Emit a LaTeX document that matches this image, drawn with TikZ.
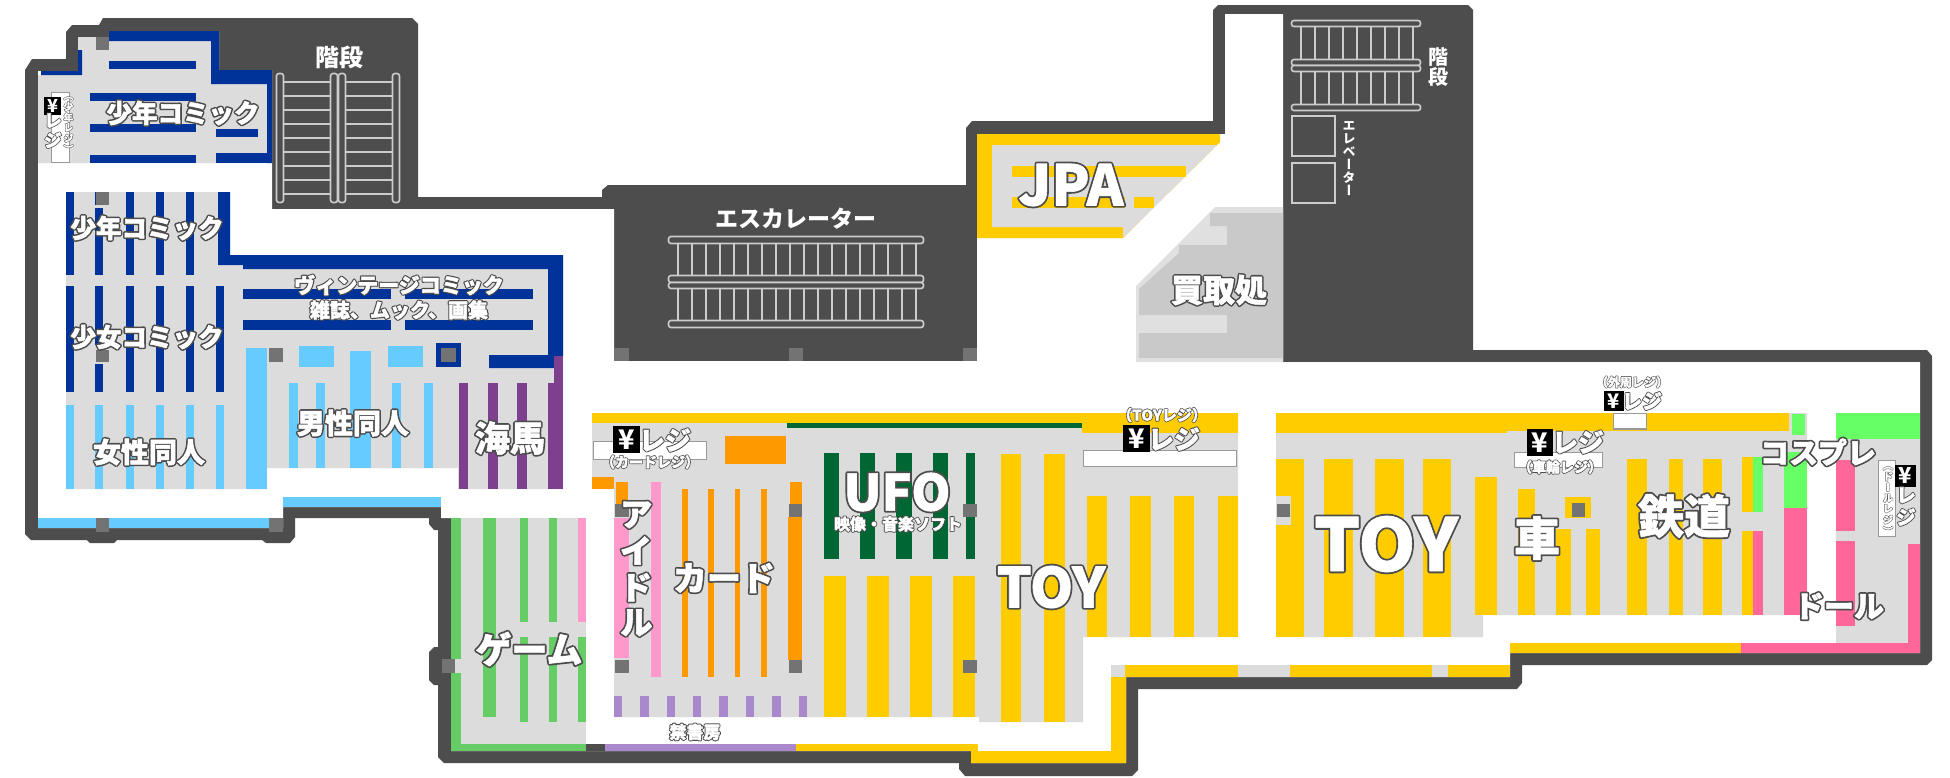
\documentclass[tikz,border=0pt]{standalone}
\usepackage{fontspec}
\usepackage{graphicx}
\newfontfamily\jp{Noto Sans CJK JP Black}
\newfontfamily\jpv{Noto Sans CJK JP Black}[RawFeature=+vert]
\definecolor{wall}{HTML}{4D4D4D}
\definecolor{flr}{HTML}{DCDCDC}
\definecolor{pil}{HTML}{737373}
\definecolor{navy}{HTML}{003399}
\definecolor{sky}{HTML}{66CCFF}
\definecolor{purp}{HTML}{7F3F8F}
\definecolor{grn}{HTML}{66CC66}
\definecolor{pnk}{HTML}{FF99CC}
\definecolor{org}{HTML}{FF9900}
\definecolor{ylw}{HTML}{FFCC00}
\definecolor{dgrn}{HTML}{006633}
\definecolor{hpnk}{HTML}{FF6699}
\definecolor{lgrn}{HTML}{66FF66}
\definecolor{lil}{HTML}{AA88CC}
\definecolor{buy}{HTML}{C9C9C9}
\definecolor{buyl}{HTML}{E0E0E0}
\definecolor{rail}{HTML}{CCCCCC}
\newcommand\bx[5]{\fill[#1] (#2,#3) rectangle (#4,#5);}
% outlined text: one box painted twice, dark stroke below, white above
\newcommand\paintbox[1]{\leavevmode\rlap{\special{x:gsave}\special{pdf:code 2 Tr \fpeval{#1*3} w 1 j 0.3 g 0.3 G}\copy0\special{x:grestore}}\special{x:gsave}\special{pdf:code 2 Tr \fpeval{#1*0.4} w 1 j 1 g 1 G}\copy0\special{x:grestore}}
\newcommand\lab[6]{\node[labn,font=\jp\fontsize{#4}{#4}\selectfont] (#1) at (#2,#3) {\setbox0=\hbox{#6}\paintbox{#5}};}
\newcommand\vlab[6]{\node[labn,font=\jpv\fontsize{#4}{#4}\selectfont] (#1) at (#2,#3) {\setbox0=\hbox{\begin{tabular}{@{}c@{}}#6\end{tabular}}\paintbox{#5}};}
\newcommand\plainlab[5]{\node[labn,font=\jpv\fontsize{#4}{#4}\selectfont] (#1) at (#2,#3) {#5};}
\newcommand\yenb[5]{\node[yenn,minimum width=#4,minimum height=#5,font=\jp\fontsize{#5}{#5}\selectfont] (#1) at (#2,#3) {¥};}
\tikzset{
  labn/.style={inner sep=0pt,outer sep=0pt,text=white,align=center},
  yenn/.style={inner sep=0pt,outer sep=0pt,fill=black,text=white},
  railr/.style={draw=rail,line width=1.6,rounded corners=2.5,fill=wall},
  rung/.style={draw=rail,line width=2},
  regbox/.style={draw=black!40,line width=1.3,fill=white}
}
\begin{document}
\begin{tikzpicture}[x=1pt,y=-1pt]
\useasboundingbox (0,0) rectangle (1950,777);
\fill[white] (0,0) rectangle (1950,777);
% outer wall
\fill[wall] (25,534)--(25,70)--(32,59)--(66,59)--(66,32)--(72,25)--(99,25)--(103,18)--(412,18)--(418,24)--(418,197)--(602,197)--(602,190)--(608,185)--(966,185)--(966,128)--(972,121)--(1213,121)--(1213,10)--(1218,5)--(1468,5)--(1473,10)--(1473,350)--(1927,350)--(1932,356)--(1932,660)--(1927,665)--(1522,665)--(1522,683)--(1517,689)--(1138,689)--(1138,770)--(1132,776)--(965,776)--(959,769)--(959,763)--(444,763)--(438,757)--(438,685)--(434,685)--(429,680)--(429,652)--(434,647)--(438,647)--(438,530)--(434,530)--(429,524)--(429,518)--(295,518)--(295,537)--(290,543)--(266,543)--(262,540)--(117,540)--(114,543)--(90,543)--(87,540)--(31,540)--cycle;
% interior
\fill[white] (38,71)--(78,71)--(78,37)--(109,37)--(109,31)--(219,31)--(219,70)--(272,70)--(272,209)--(614,209)--(614,361)--(977,361)--(977,134)--(1225,134)--(1225,14)--(1283,14)--(1283,362)--(1920,362)--(1920,653)--(1510,653)--(1510,677)--(1126,677)--(1126,763)--(971,763)--(971,751)--(451,751)--(451,518)--(441,518)--(441,507)--(283,507)--(283,528)--(38,528)--cycle;
% top-left zone
\fill[flr] (38,75)--(78,75)--(78,37)--(109,37)--(109,41)--(211,41)--(211,84)--(267,84)--(267,163)--(38,163)--cycle;
\fill[navy] (41,71)--(78,71)--(78,50)--(82,50)--(82,75)--(41,75)--cycle;
\fill[navy] (109,31)--(219,31)--(219,70)--(272,70)--(272,163)--(267,163)--(267,84)--(211,84)--(211,41)--(109,41)--cycle;
\bx{navy}{109}{61}{196}{69}
\bx{navy}{90}{93}{196}{101}
\bx{navy}{90}{124}{196}{132}
\bx{navy}{216}{129}{258}{137}
\bx{navy}{90}{155}{196}{163}
\bx{navy}{216}{153}{267}{163}
\bx{pil}{96}{37}{109}{50}
\draw[regbox] (51.5,92.5) rectangle (69.5,162.5);
% middle left zone
\fill[flr] (66,192)--(230,192)--(230,255)--(563,255)--(563,489)--(458,489)--(458,468)--(267,468)--(267,489)--(66,489)--cycle;
\foreach \a/\b in {66/73.5,94.5/102.5,126/134,156/164,186/194}{
  \bx{navy}{\a}{192}{\b}{275}
  \bx{navy}{\a}{286}{\b}{392}
  \bx{sky}{\a}{405}{\b}{489}
}
\bx{navy}{216}{286}{224}{392}
\bx{sky}{216}{405}{224}{489}
\fill[navy] (218,192)--(230,192)--(230,255)--(563,255)--(563,356)--(554,356)--(554,368)--(489,368)--(489,355)--(548,355)--(548,269)--(243,269)--(243,265)--(218,265)--cycle;
\bx{flr}{94}{205}{103}{208}
\bx{flr}{94}{345}{103}{364}
\bx{pil}{96}{192}{109}{205}
\bx{pil}{96}{350}{109}{362}
\bx{navy}{243}{289}{391}{299}
\bx{navy}{405}{289}{533}{299}
\bx{navy}{243}{320}{391}{330}
\bx{navy}{405}{320}{533}{330}
\bx{sky}{246}{348}{267}{489}
\bx{sky}{298.5}{346}{334}{367}
\bx{sky}{350}{351}{371}{468}
\bx{sky}{388}{346}{423}{367}
\foreach \a/\b in {289/298,316/325,392/401,424/432.5}{\bx{sky}{\a}{383}{\b}{468}}
\foreach \a/\b in {458.5/468,488/497.5,517/527}{\bx{purp}{\a}{383}{\b}{489}}
\bx{purp}{548}{383}{563}{489}
\bx{purp}{554}{356}{563}{383}
\bx{navy}{436}{343}{461}{367}
\bx{pil}{441}{348}{456}{362}
\bx{pil}{269}{348}{283}{362}
\bx{sky}{283}{497}{441}{507}
\bx{sky}{38}{518}{270}{528}
\bx{pil}{96}{518}{109}{532}
\bx{pil}{269}{518}{283}{532}
% game zone
\bx{flr}{451}{518}{585.5}{751}
\bx{grn}{451}{518}{461}{751}
\bx{grn}{451}{744}{585.5}{751}
\bx{flr}{451}{659}{461}{673}
\bx{grn}{482.5}{518}{496}{717}
\foreach \a/\b in {520/528,548.5/557}{\bx{grn}{\a}{518}{\b}{622}\bx{grn}{\a}{637}{\b}{722}}
\bx{pnk}{577.5}{518}{585.5}{622}
\bx{grn}{577.5}{637}{585.5}{722}
\bx{pil}{441.5}{659}{455}{673}
\bx{wall}{585.5}{744}{605}{751}
% centre floor
\fill[flr] (592,413)--(1238,413)--(1238,637)--(1083,637)--(1083,722)--(979,722)--(979,717)--(614,717)--(614,489)--(592,489)--cycle;
\bx{ylw}{592}{413}{1082}{423}
\bx{ylw}{1082}{413}{1238}{433}
\bx{dgrn}{787}{423}{1082}{428}
\draw[regbox] (593.5,441.5) rectangle (706.5,459.5);
\bx{org}{725}{436}{786}{464}
\bx{org}{592}{477}{614}{489}
\bx{org}{616}{482}{628}{504}
\bx{pil}{615}{504}{629}{517}
\bx{pnk}{614}{518}{629}{658}
\bx{pil}{615}{660}{629}{673}
\bx{pnk}{651}{482}{661}{677}
\foreach \a/\b in {682/688,708/714,735/740,761/767}{\bx{org}{\a}{489}{\b}{677}}
\bx{org}{790}{482}{802}{504}
\bx{pil}{789}{504}{802}{517}
\bx{org}{788}{517}{802}{660}
\bx{pil}{789}{660}{802}{673}
\foreach \a/\b in {614/622,640/649,667/675,693/701,719/728,746/754,772/781,799/807}{\bx{lil}{\a}{696}{\b}{717}}
\foreach \a/\b in {824/839,860/875,896/912,933/948,966/975}{\bx{dgrn}{\a}{453}{\b}{559}}
\bx{pil}{963}{504}{977}{517}
\foreach \a/\b in {824/846,867/889,910/932,953/975}{\bx{ylw}{\a}{576}{\b}{717}}
\bx{pil}{963}{660}{977}{673}
\foreach \a/\b in {1001/1021,1044/1065}{\bx{ylw}{\a}{454}{\b}{722}}
\foreach \a/\b in {1087/1107,1130/1151,1174/1194,1218/1238}{\bx{ylw}{\a}{496}{\b}{637}}
\draw[regbox] (1083.5,450.5) rectangle (1236.5,466.5);
% bottom strips
\bx{lil}{605}{744}{796}{751}
\bx{ylw}{796}{744}{978}{751}
\fill[ylw] (971,751)--(1111,751)--(1111,677)--(1126,677)--(1126,763)--(971,763)--cycle;
\bx{flr}{1111}{665}{1125}{677}
\bx{ylw}{1125}{665}{1238}{677}
\bx{flr}{1238}{665}{1290}{677}
\bx{ylw}{1290}{665}{1432}{677}
\bx{flr}{1432}{665}{1448}{677}
\bx{ylw}{1448}{665}{1510}{677}
\bx{ylw}{1510}{643}{1741}{653}
\bx{hpnk}{1741}{643}{1920}{653}
% right floor
\fill[flr] (1276,413)--(1807,413)--(1807,615)--(1483,615)--(1483,637)--(1276,637)--cycle;
\bx{ylw}{1276}{413}{1507}{433}
\bx{ylw}{1507}{413}{1789}{431}
\bx{lgrn}{1792}{414}{1805}{435}
\draw[regbox] (1613.5,413.5) rectangle (1646.5,429);
\foreach \a/\b in {1276/1304,1324/1353,1375/1404,1423/1451}{\bx{ylw}{\a}{459}{\b}{637}}
\bx{flr}{1276}{496}{1291}{525}
\bx{pil}{1277}{504}{1290}{517}
\bx{ylw}{1475}{477}{1497}{615}
\bx{ylw}{1518}{489}{1535}{615}
\bx{ylw}{1556}{529}{1571}{615}
\bx{ylw}{1586}{529}{1600}{615}
\bx{ylw}{1565}{497}{1591}{518}
\bx{pil}{1572}{503}{1585}{517}
\draw[regbox] (1514.5,452.5) rectangle (1602.5,467.5);
\bx{ylw}{1627}{459}{1647}{615}
\bx{ylw}{1669}{459}{1683}{615}
\bx{ylw}{1703}{459}{1722}{615}
\bx{ylw}{1742}{457}{1753}{512}
\bx{lgrn}{1753}{457}{1763}{512}
\bx{ylw}{1742}{531}{1753}{615}
\bx{hpnk}{1753}{531}{1763}{615}
\bx{lgrn}{1784}{452}{1807}{508}
\bx{hpnk}{1784}{508}{1807}{615}
% doll block
\bx{flr}{1836}{413}{1920}{643}
\bx{lgrn}{1836}{413}{1920}{439}
\bx{hpnk}{1836}{460}{1855}{531}
\bx{hpnk}{1836}{541}{1855}{626}
\bx{hpnk}{1908}{544}{1920}{643}
\draw[regbox] (1878.5,460.5) rectangle (1895.5,536.5);
% JPA
\fill[ylw] (977,134)--(1220,134)--(1220,142)--(1123,238)--(977,238)--cycle;
\fill[flr] (992,145)--(1217,145)--(1123,238)--(1123,227)--(992,227)--cycle;
\bx{ylw}{1012}{166}{1186}{177}
\bx{ylw}{1012}{197}{1125}{208}
\bx{ylw}{1134}{197}{1154}{208}
% buyback
\fill[buyl] (1136,286)--(1215,207)--(1283,207)--(1283,362)--(1136,362)--cycle;
\fill[buy] (1210,213)--(1283,213)--(1283,358)--(1139,358)--(1139,333)--(1227,333)--(1227,315)--(1139,315)--(1139,289)--(1179,253)--(1179,245)--(1227,245)--(1227,226)--(1210,226)--cycle;
% pillars on escalator room
\bx{pil}{614}{348}{629}{361}
\bx{pil}{789}{348}{803}{361}
\bx{pil}{963}{348}{977}{361}
% top stairs
\foreach \y in {82,96,...,194}{
  \draw[rung] (280,\y)--(334,\y);
  \draw[rung] (342,\y)--(396,\y);
}
\draw[railr] (276.5,73.5) rectangle (283.5,202.5);
\draw[railr] (330.5,73.5) rectangle (337.5,202.5);
\draw[railr] (338.5,73.5) rectangle (345.5,202.5);
\draw[railr] (392.5,73.5) rectangle (399.5,202.5);
% escalator
\foreach \i in {0,...,17}{
  \draw[rung] ({677.7+14*\i},240)--({677.7+14*\i},279);
  \draw[rung] ({677.7+14*\i},285)--({677.7+14*\i},324);
}
\draw[railr] (668.5,236.5) rectangle (923.5,243.5);
\draw[railr] (668.5,275.5) rectangle (923.5,282.5);
\draw[railr] (668.5,282.5) rectangle (923.5,288.5);
\draw[railr] (668.5,320.5) rectangle (923.5,327.5);
% right stairs
\foreach \i in {0,...,8}{
  \draw[rung] ({1301+14*\i},24)--({1301+14*\i},62);
  \draw[rung] ({1301+14*\i},69)--({1301+14*\i},107);
}
\draw[railr] (1291.5,20.5) rectangle (1420.5,26.5);
\draw[railr] (1291.5,59.5) rectangle (1420.5,65.5);
\draw[railr] (1291.5,65.5) rectangle (1420.5,71.5);
\draw[railr] (1291.5,104.5) rectangle (1420.5,110.5);
\draw[rail,line width=2] (1292,116) rectangle (1335,156);
\draw[rail,line width=2] (1292,163) rectangle (1335,203);
% labels
\node[labn,font=\jp\fontsize{24}{24}\selectfont] (stairA) at (339,57) {階段};
\node[labn,font=\jp\fontsize{23}{23}\selectfont] (esc) at (796,219) {エスカレーター};
\plainlab{stairB}{1438}{67}{20}{階\\段}
\plainlab{elev}{1349}{159}{13}{エ\\レ\\ベ\\ー\\タ\\ー}
\lab{shonenA}{183}{113}{25.5}{1.2}{少年コミック}
\lab{shonenB}{147}{228}{25.5}{1.2}{少年コミック}
\lab{shojo}{147}{337}{25.5}{1.2}{少女コミック}
\lab{vint}{399}{285}{21}{0.9}{ヴィンテージコミック}
\lab{maga}{399}{310}{20}{0.9}{雑誌、ムック、画集}
\lab{dansei}{353}{423}{28}{1.2}{男性同人}
\lab{josei}{149}{452}{28}{1.2}{女性同人}
\lab{kaiba}{510}{438}{35}{1.3}{海馬}
\lab{game}{529}{649}{36}{1.4}{ゲーム}
\vlab{idol}{636}{573}{33}{1.3}{ア\\イ\\ド\\ル}
\lab{card}{724}{578}{34}{1.3}{カード}
\lab{ufo}{897}{492}{50}{1.4}{UFO}
\lab{soft}{898}{524}{16}{0.7}{映像・音楽ソフト}
\lab{toyA}{1051}{587}{55}{1.4}{TOY}
\lab{toyB}{1386}{544}{73}{1.4}{TOY}
\lab{car}{1537}{538}{46}{1.4}{車}
\lab{railway}{1684}{516}{46}{1.4}{鉄道}
\lab{cos}{1818}{452}{29}{1.3}{コスプレ}
\lab{doll}{1839}{606}{30}{1.3}{ドール}
\lab{jpa}{1071}{185}{56}{1.4}{JPA}
\lab{kaitori}{1219}{290}{32}{1.2}{買取処}
\lab{kinsho}{695}{732}{17}{0.8}{禁書房}
% registers
\yenb{yA}{52.5}{106}{17}{18}
\vlab{rA}{53}{133}{18}{0.6}{レ\\ジ}
\vlab{pA}{68.5}{124}{9.5}{0.4}{（\\少\\年\\レ\\ジ\\）}
\yenb{yB}{626.5}{439.5}{27}{27}
\lab{rB}{665}{440}{26}{0.8}{レジ}
\lab{pB}{650}{462}{14}{0.6}{（カードレジ）}
\yenb{yC}{1136.5}{438.5}{27}{27}
\lab{rC}{1174}{439}{26}{0.8}{レジ}
\lab{pC}{1162}{415}{15}{0.6}{（TOYレジ）}
\yenb{yD}{1540}{442.5}{26}{27}
\lab{rD}{1578}{442}{26}{0.8}{レジ}
\lab{pD}{1560}{467}{14}{0.6}{（車輪レジ）}
\yenb{yE}{1614}{401}{20}{20}
\lab{rE}{1642}{401}{20}{0.7}{レジ}
\lab{pE}{1632}{382}{12}{0.5}{（外周レジ）}
\yenb{yF}{1905.5}{476}{21}{22}
\vlab{rF}{1906}{509}{20}{0.7}{レ\\ジ}
\vlab{pF}{1888}{500}{10}{0.4}{（\\ド\\ー\\ル\\レ\\ジ\\）}
\end{tikzpicture}
\end{document}
